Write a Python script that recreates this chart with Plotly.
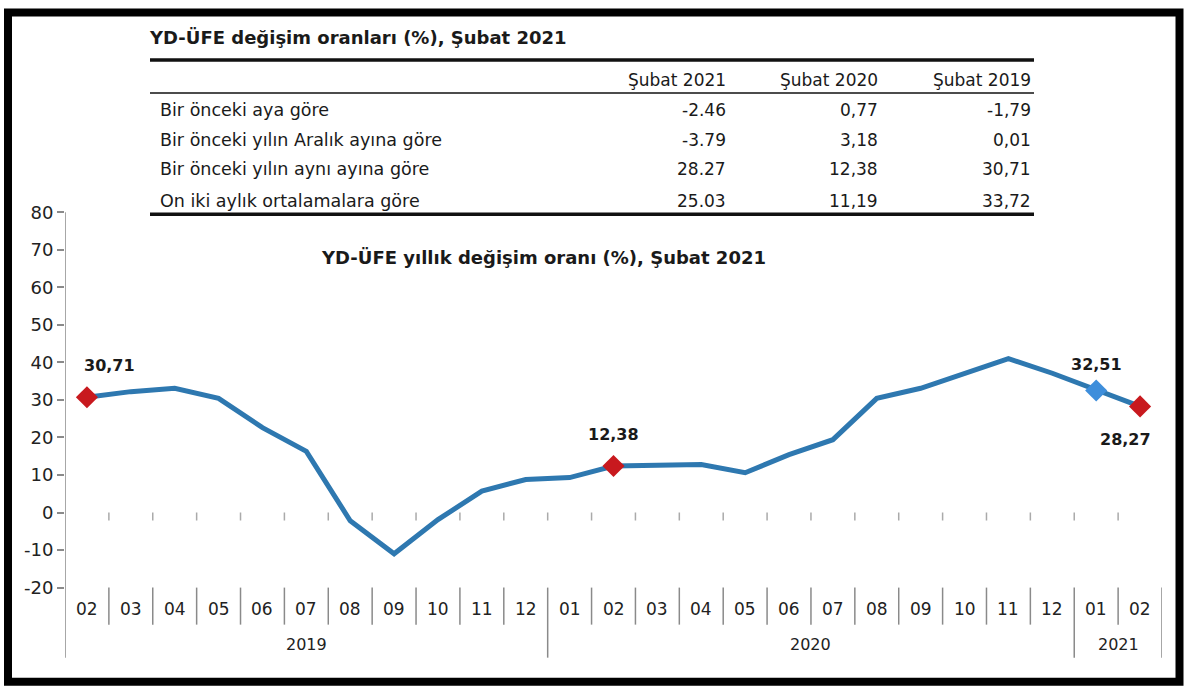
import plotly.graph_objects as go

# YD-ÜFE annual change, Feb 2019 - Feb 2021
months = ["02", "03", "04", "05", "06", "07", "08", "09", "10", "11", "12",
          "01", "02", "03", "04", "05", "06", "07", "08", "09", "10", "11", "12",
          "01", "02"]
years = ["2019", "2020", "2021"]
year_start = [0, 11, 23]
year_end = [10, 22, 24]
values = [30.71, 32.2, 33.1, 30.4, 22.6, 16.3, -2.2, -11.0, -1.9, 5.7, 8.8,
          9.3, 12.38, 12.5, 12.8, 10.6, 15.4, 19.4, 30.4, 33.1, 37.1, 41.0, 37.1,
          32.51, 28.27]
red_idx = [0, 12, 24]
blue_idx = [23]
y_ticks = [-20, -10, 0, 10, 20, 30, 40, 50, 60, 70, 80]

# table data
table_title = "YD-ÜFE değişim oranları (%), Şubat 2021"
table_cols = ["Şubat 2021", "Şubat 2020", "Şubat 2019"]
table_rows = ["Bir önceki aya göre",
              "Bir önceki yılın Aralık ayına göre",
              "Bir önceki yılın aynı ayına göre",
              "On iki aylık ortalamalara göre"]
table_vals = [["-2.46", "0,77", "-1,79"],
              ["-3.79", "3,18", "0,01"],
              ["28.27", "12,38", "30,71"],
              ["25.03", "11,19", "33,72"]]

W, H = 1200, 700
FONT = "DejaVu Sans, Liberation Sans, Arial, sans-serif"
LINE = "#2E78B0"
RED = "#C8191E"
BLUE = "#3E8EDB"
AX = "#8a8a8a"
TXT = "#1a1a1a"

# the page shot comes out a bit squeezed vertically, so screen y is mapped back
Y_OFF, Y_SCALE = 9.0, 0.969


def px(x):
    return x / W


def py(y):
    return 1 - ((y - Y_OFF) / Y_SCALE) / H


x = list(range(len(values)))
fig = go.Figure()
fig.add_trace(go.Scatter(x=x, y=values, mode="lines",
                         line=dict(color=LINE, width=5), hoverinfo="skip"))
fig.add_trace(go.Scatter(x=red_idx, y=[values[i] for i in red_idx], mode="markers",
                         marker=dict(symbol="diamond", size=17, color=RED)))
fig.add_trace(go.Scatter(x=blue_idx, y=[values[i] for i in blue_idx], mode="markers",
                         marker=dict(symbol="diamond", size=17, color=BLUE)))


def fmt(v):
    return f"{v:.2f}".replace(".", ",")


# data labels: (index, xshift, yshift)
for i, xs, ys in [(0, 23, 32), (12, 0, 32), (23, 0, 26), (24, -15, -33)]:
    fig.add_annotation(x=i, y=values[i], xref="x", yref="y", text=f"<b>{fmt(values[i])}</b>",
                       showarrow=False, xshift=xs, yshift=ys,
                       font=dict(family=FONT, size=16, color=TXT))

shapes = []
# small ticks on the zero line
for k in range(1, len(values)):
    shapes.append(dict(type="line", xref="x", yref="y", x0=k - 0.5, x1=k - 0.5,
                       y0=0, y1=-2.1, line=dict(color="#aaa", width=1.5)))
# category separators
long_sep = [-0.5] + [e + 0.5 for e in year_end]
for k in range(len(values) + 1):
    xv = k - 0.5
    bottom = 655 if xv in long_sep else 622
    top = 210 if xv == -0.5 else 585
    shapes.append(dict(type="line", xref="x", yref="paper", x0=xv, x1=xv,
                       y0=py(top), y1=py(bottom), line=dict(color=AX, width=1.5)))
# table rules
shapes.append(dict(type="line", xref="paper", yref="paper", x0=px(150), x1=px(1034),
                   y0=py(58), y1=py(58), line=dict(color="#111", width=3.5)))
shapes.append(dict(type="line", xref="paper", yref="paper", x0=px(150), x1=px(1034),
                   y0=py(91), y1=py(91), line=dict(color="#111", width=1.5)))
shapes.append(dict(type="line", xref="paper", yref="paper", x0=px(150), x1=px(1034),
                   y0=py(212), y1=py(212), line=dict(color="#111", width=3.5)))
# outer frame
shapes.append(dict(type="rect", xref="paper", yref="paper", x0=px(8), x1=px(1179.5),
                   y0=py(10.5), y1=py(679), line=dict(color="#000", width=8)))

# category and year labels
for i, m in enumerate(months):
    fig.add_annotation(x=i, y=py(606), xref="x", yref="paper", yanchor="middle",
                       text=m, showarrow=False,
                       font=dict(family=FONT, size=17, color="#222"))
for yr, s, e in zip(years, year_start, year_end):
    fig.add_annotation(x=(s + e) / 2, y=py(642), xref="x", yref="paper", yanchor="middle",
                       text=yr, showarrow=False, font=dict(family=FONT, size=16, color="#222"))

# chart title
fig.add_annotation(x=px(543), y=py(255), xref="paper", yref="paper",
                   xanchor="center", yanchor="middle",
                   text="<b>YD-ÜFE yıllık değişim oranı (%), Şubat 2021</b>",
                   showarrow=False, font=dict(family=FONT, size=18, color=TXT))

# table text
fig.add_annotation(x=px(147), y=py(35), xref="paper", yref="paper",
                   xanchor="left", yanchor="middle",
                   text=f"<b>{table_title}</b>", showarrow=False,
                   font=dict(family=FONT, size=18, color=TXT))
col_right = [728, 880, 1033]
for c, name in enumerate(table_cols):
    fig.add_annotation(x=px(col_right[c]), y=py(78), xref="paper", yref="paper",
                       xanchor="right", yanchor="middle", text=name, showarrow=False,
                       font=dict(family=FONT, size=17, color=TXT))
row_y = [108, 138, 167, 199]
for r, label in enumerate(table_rows):
    fig.add_annotation(x=px(158), y=py(row_y[r]), xref="paper", yref="paper",
                       xanchor="left", yanchor="middle", text=label, showarrow=False,
                       font=dict(family=FONT, size=17.5, color=TXT))
    for c, v in enumerate(table_vals[r]):
        fig.add_annotation(x=px(col_right[c]), y=py(row_y[r]), xref="paper", yref="paper",
                           xanchor="right", yanchor="middle", text=v, showarrow=False,
                           font=dict(family=FONT, size=17, color=TXT))

fig.update_layout(
    width=W, height=H,
    margin=dict(l=0, r=0, t=0, b=0),
    paper_bgcolor="white", plot_bgcolor="white",
    showlegend=False,
    shapes=shapes,
    xaxis=dict(domain=[px(65), px(1162)], range=[-0.5, len(values) - 0.5],
               visible=False),
    yaxis=dict(domain=[py(585), py(210)], range=[-20, 80],
               tickvals=y_ticks, ticktext=[str(t) for t in y_ticks],
               showgrid=False, zeroline=False, showline=False,
               ticks="outside", ticklen=7, tickcolor=AX, tickwidth=1.5,
               tickfont=dict(family=FONT, size=18, color="#222")),
)

fig.write_html("out.html", config={"displayModeBar": False},
               post_script="document.body.style.margin='0';document.body.style.overflow='hidden';")
